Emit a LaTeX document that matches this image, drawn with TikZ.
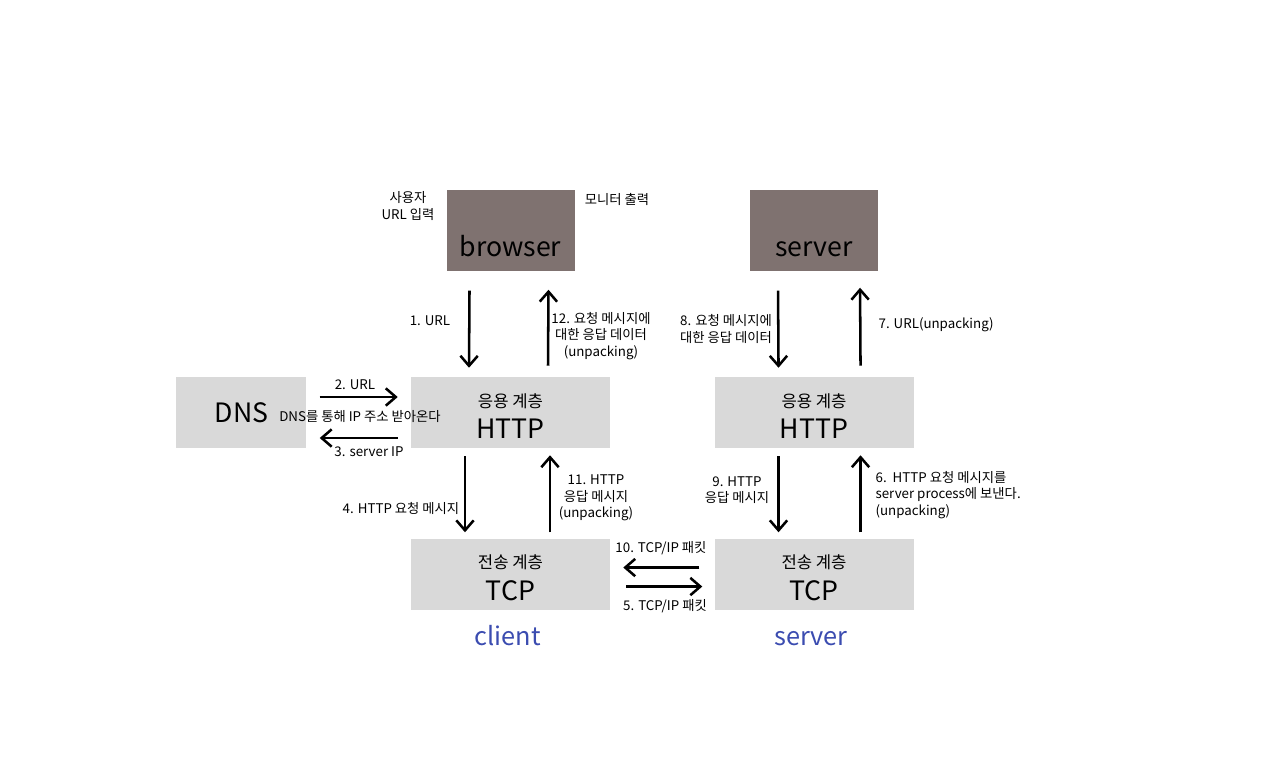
\documentclass[tikz,border=0pt]{standalone}
\usepackage{fontspec}
\setmainfont{Noto Sans CJK KR}
\usetikzlibrary{positioning, arrows.meta, calc}

\definecolor{boxgray}{HTML}{D9D9D9}
\definecolor{boxbrown}{HTML}{7F7270}
\definecolor{sideblue}{HTML}{3B4CB0}

\begin{document}
\begin{tikzpicture}[
		x=0.75pt, y=-0.75pt,
		>={Straight Barb[length=7.5pt, width=13pt]},
		% Define styles
		dark/.style={rectangle, fill=boxbrown, minimum width=96pt, minimum height=60.75pt, inner sep=0pt},
		layer/.style={rectangle, fill=boxgray, minimum width=149.25pt, minimum height=53.25pt, inner sep=0pt},
		small/.style={font=\fontsize{12.5}{15}\selectfont, inner sep=0pt},
		big/.style={font=\fontsize{20}{24}\selectfont, inner sep=0pt},
		side/.style={font=\fontsize{19}{22}\selectfont, text=sideblue, inner sep=0pt, anchor=base},
		lbl/.style={font=\fontsize{10}{12.4}\selectfont, align=center, inner sep=1pt},
		flow/.style={->, line width=1.9pt}
		]
		\useasboundingbox (0,0) rectangle (1280,775);
		
		% 1. Client stack
		\node[layer] (chttp) at (510.5,412.5) {};
		\node[small] (chttp1) at ($(chttp)+(0,-11.5)$) {응용 계층};
		\node[big] (chttp2) at ($(chttp)+(0,16.5)$) {HTTP};
		\node[layer, below=67.5pt of chttp] (ctcp) {};
		\node[small] (ctcp1) at ($(ctcp)+(0,-12)$) {전송 계층};
		\node[big] (ctcp2) at ($(ctcp)+(0,16.5)$) {TCP};
		\node[dark, above=78.75pt of chttp] (browser) {};
		\node[big, anchor=base] (browsertxt) at ($(browser.center)+(0,25.5)$) {browser};
		\node[layer, left=78pt of chttp, minimum width=97.5pt] (dns) {};
		\node[big] (dnstxt) at (dns) {DNS};
		
		% 2. Server stack
		\node[layer, right=78pt of chttp] (shttp) {};
		\node[small] (shttp1) at ($(shttp)+(0,-11.5)$) {응용 계층};
		\node[big] (shttp2) at ($(shttp)+(0,16.5)$) {HTTP};
		\node[layer, below=67.5pt of shttp] (stcp) {};
		\node[small] (stcp1) at ($(stcp)+(0,-12)$) {전송 계층};
		\node[big] (stcp2) at ($(stcp)+(0,16.5)$) {TCP};
		\node[dark, above=78.75pt of shttp] (srv) {};
		\node[big, anchor=base] (srvtxt) at ($(srv.center)+(0,25.5)$) {server};
		
		% 3. Side names
		\node[side] (client) at ($(ctcp.south)+(-3,36)$) {client};
		\node[side] (server) at ($(stcp.south)+(-3,36)$) {server};
		
		% 4. Browser in/out
		\node[lbl] (userin) at (408,206) {사용자\\URL 입력};
		\node[lbl] (monitor) at (617,199) {모니터 출력};
		
		% 5. Client side arrows
		\draw[flow] ($(browser.south)+(-41,19)$) -- ($(chttp.north)+(-41.5,-9)$);
		\node[lbl] (l1) at (430,321) {1. URL};
		\draw[flow] ($(chttp.north)+(37.5,-11)$) -- ($(browser.south)+(38,18)$);
		\node[lbl] (l12) at (601,336) {12. 요청 메시지에\\대한 응답 데이터\\(unpacking)};
		
		\draw[flow] ($(dns.east)+(13,-15.5)$) -- ($(chttp.west)+(-13,-15.5)$);
		\node[lbl] (l2) at (355,385) {2. URL};
		\draw[flow] ($(chttp.west)+(-13,25.5)$) -- ($(dns.east)+(13,25.5)$);
		\node[lbl] (l3) at (369,452) {3. server IP};
		\node[lbl] (ldns) at (360,417) {DNS를 통해 IP 주소 받아온다};
		
		\draw[flow] ($(chttp.south)+(-45.5,8)$) -- ($(ctcp.north)+(-45.5,-6)$);
		\node[lbl] (l4) at (401,508) {4. HTTP 요청 메시지};
		\draw[flow] ($(ctcp.north)+(39.5,-6)$) -- ($(chttp.south)+(39.5,7)$);
		\node[lbl] (l11) at (596,498) {11. HTTP\\응답 메시지\\(unpacking)};
		
		% 6. Between the TCP layers
		\draw[flow] ($(stcp.west)+(-15,-6.5)$) -- ($(ctcp.east)+(13,-6.5)$);
		\node[lbl] (l10) at (661,548) {10. TCP/IP 패킷};
		\draw[flow] ($(ctcp.east)+(16,12.5)$) -- ($(stcp.west)+(-12,12.5)$);
		\node[lbl] (l5) at (665,606) {5. TCP/IP 패킷};
		
		% 7. Server side arrows
		\draw[flow] ($(stcp.north)+(46.5,-6)$) -- ($(shttp.south)+(46.5,7)$);
		\node[lbl, align=left, anchor=west] (l6) at (874,495) {6.\ \ HTTP 요청 메시지를\\server process에 보낸다.\\(unpacking)};
		\draw[flow] ($(shttp.north)+(46.5,-11)$) -- ($(srv.south)+(46,16)$);
		\node[lbl, anchor=west] (l7) at (877,325) {7. URL(unpacking)};
		\draw[flow] ($(srv.south)+(-36,19)$) -- ($(shttp.north)+(-35.5,-9)$);
		\node[lbl] (l8) at (726,329) {8. 요청 메시지에\\대한 응답 데이터};
		\draw[flow] ($(shttp.south)+(-35.5,8)$) -- ($(stcp.north)+(-35.5,-6)$);
		\node[lbl] (l9) at (737,490) {9. HTTP\\응답 메시지};
		
	\end{tikzpicture}
\end{document}
